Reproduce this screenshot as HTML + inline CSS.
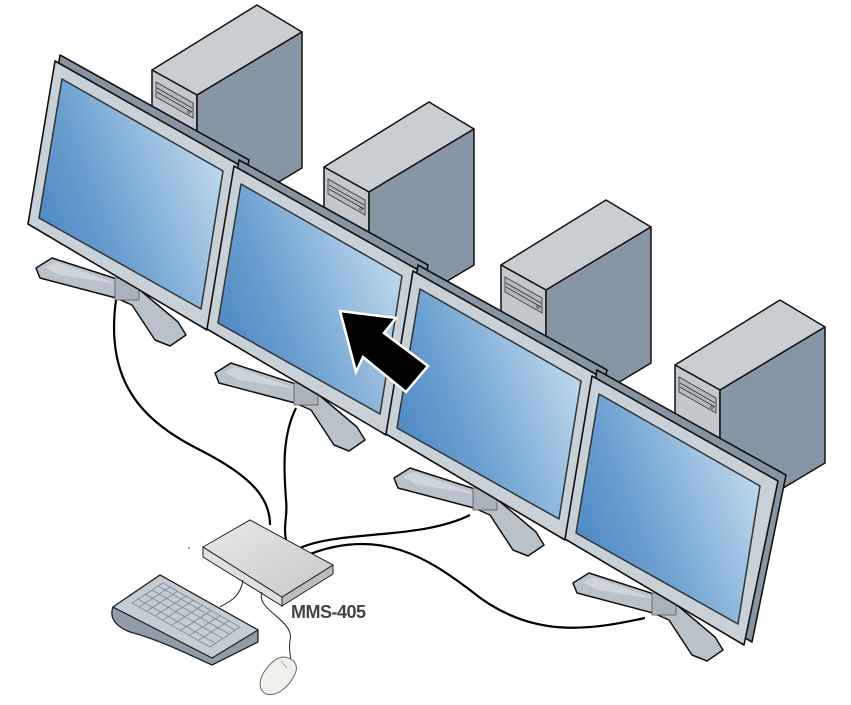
<!DOCTYPE html>
<html><head><meta charset="utf-8"><style>
html,body{margin:0;padding:0;background:#fff;width:851px;height:705px;overflow:hidden}
svg{display:block}
</style></head><body>
<svg width="851" height="705" viewBox="0 0 851 705" xmlns="http://www.w3.org/2000/svg">
<defs>
<linearGradient id="scr" x1="0" y1="0.75" x2="1" y2="0.25">
<stop offset="0" stop-color="#4a86c2"/><stop offset="0.35" stop-color="#6a9fd0"/><stop offset="1" stop-color="#c6ddef"/>
</linearGradient>
<linearGradient id="box" x1="0" y1="0" x2="1" y2="1">
<stop offset="0" stop-color="#e8e8e8"/><stop offset="1" stop-color="#c8c8c8"/>
</linearGradient>
<g id="tower">
<polygon points="152,70 257,5 302,32 197,95" fill="#c9ced3" stroke="#111" stroke-width="1.5" stroke-linejoin="round"/>
<polygon points="152,70 197,95 197,231 152,206" fill="#c3c8cd" stroke="#111" stroke-width="1.5" stroke-linejoin="round"/>
<polygon points="197,95 302,32 302,168 197,231" fill="#8796a4" stroke="#111" stroke-width="1.5" stroke-linejoin="round"/>
<polygon points="156,82 193,103 193,118 156,97" fill="#b3b9bf" stroke="#333" stroke-width="0.8"/>
<line x1="157" y1="88" x2="192" y2="108" stroke="#333" stroke-width="0.8"/>
<line x1="157" y1="92" x2="192" y2="112" stroke="#333" stroke-width="0.8"/>
<circle cx="189" cy="112" r="1.3" fill="none" stroke="#333" stroke-width="0.7"/>
</g>
<g id="stand">
<polygon points="36,268 52,258 120,280 140,290 178,322 186,335 170,346 155,340 132,305 116,298 40,278" fill="#b9c2ca" stroke="#111" stroke-width="1.5" stroke-linejoin="round"/>
<polygon points="45,267 56,262 118,284 60,275" fill="#cdd4da"/>
<rect x="115" y="278" width="24" height="22" fill="#a9b3bc" stroke="#555" stroke-width="0.8"/>
</g>
<g id="mon">
<polygon points="60,55 249,160 215,327 34,221" fill="#8595a3" stroke="#111" stroke-width="1.6" stroke-linejoin="round"/>
<polygon points="55,61 241,166 207,330 28,224" fill="#c9d1d8" stroke="#111" stroke-width="1.6" stroke-linejoin="round"/>
<polygon points="62,79 223,171 201,309 39,218" fill="url(#scr)" stroke="#333" stroke-width="1.5" stroke-linejoin="round"/>
</g>
</defs>

<use href="#tower"/>
<use href="#tower" transform="translate(172,97)"/>
<use href="#tower" transform="translate(349,195)"/>
<use href="#tower" transform="translate(523,295)"/>

<g fill="none" stroke="#000" stroke-width="2.2">
<path d="M116,300 C105,380 140,420 200,450 C255,478 270,500 270,525"/>
<path d="M296,408 C280,440 285,480 286,500 C288,515 283,525 286,540"/>
<path d="M300,548 C340,530 420,540 470,515"/>
<path d="M305,556 C380,525 430,560 470,590 C530,640 590,630 645,618"/>
</g>

<use href="#stand"/>
<use href="#mon"/>
<use href="#stand" transform="translate(179,105)"/>
<use href="#mon" transform="translate(179,105)"/>
<use href="#stand" transform="translate(358,210)"/>
<use href="#mon" transform="translate(358,210)"/>
<use href="#stand" transform="translate(537,315)"/>
<use href="#mon" transform="translate(537,315)"/>

<polygon points="340,311 396,318 384,333 428,366 406,392 363,357 356,372" fill="#000" stroke="#fff" stroke-width="2.5" stroke-linejoin="miter"/>

<polygon points="203,547 203,557 282,606 282,597" fill="#e0e0e0" stroke="#222" stroke-width="1"/>
<polygon points="282,597 333,565 333,574 282,606" fill="#bdbdbd" stroke="#222" stroke-width="1"/>
<polygon points="203,547 250,520 333,565 282,597" fill="url(#box)" stroke="#222" stroke-width="1"/>
<g fill="none" stroke="#222" stroke-width="1">
<path d="M243,580 C240,600 225,603 220,607"/>
<path d="M262,592 C255,610 295,620 290,640 C288,655 293,660 290,665"/>
</g>
<text x="291" y="618" font-family="Liberation Sans, sans-serif" font-weight="bold" font-size="18" fill="#444" letter-spacing="-0.5">MMS-405</text>

<path d="M113,607 L160,575 L258,630 L258,642 L212,665 C190,655 160,640 130,632 C112,625 110,615 113,607 Z" fill="#8f9daa" stroke="#222" stroke-width="1.3"/>
<polygon points="113,607 160,575 258,630 212,658" fill="#c4ccd4" stroke="#222" stroke-width="1.2"/>
<g stroke="#7d8b98" stroke-width="0.8" fill="none">
<polygon points="132,603 163,583 240,627 210,647"/>
<line x1="139" y1="607" x2="170" y2="587"/><line x1="147" y1="611" x2="178" y2="591"/>
<line x1="155" y1="616" x2="186" y2="596"/><line x1="163" y1="620" x2="194" y2="600"/>
<line x1="172" y1="625" x2="203" y2="605"/><line x1="181" y1="630" x2="212" y2="610"/>
<line x1="190" y1="635" x2="221" y2="615"/><line x1="199" y1="640" x2="230" y2="620"/>
<line x1="138" y1="599" x2="215" y2="643"/><line x1="145" y1="594" x2="222" y2="638"/>
<line x1="152" y1="590" x2="229" y2="634"/><line x1="158" y1="586" x2="235" y2="630"/>
</g>

<path d="M284,657 C294,658 300,666 294,676 C288,688 276,697 266,694 C258,690 259,680 264,672 C270,663 277,657 284,657 Z" fill="#f2f0ea" stroke="#666" stroke-width="1"/>
<path d="M281,661 L287,668" stroke="#999" stroke-width="0.8"/>
<circle cx="189" cy="548" r="1" fill="#999"/>
</svg>
</body></html>
